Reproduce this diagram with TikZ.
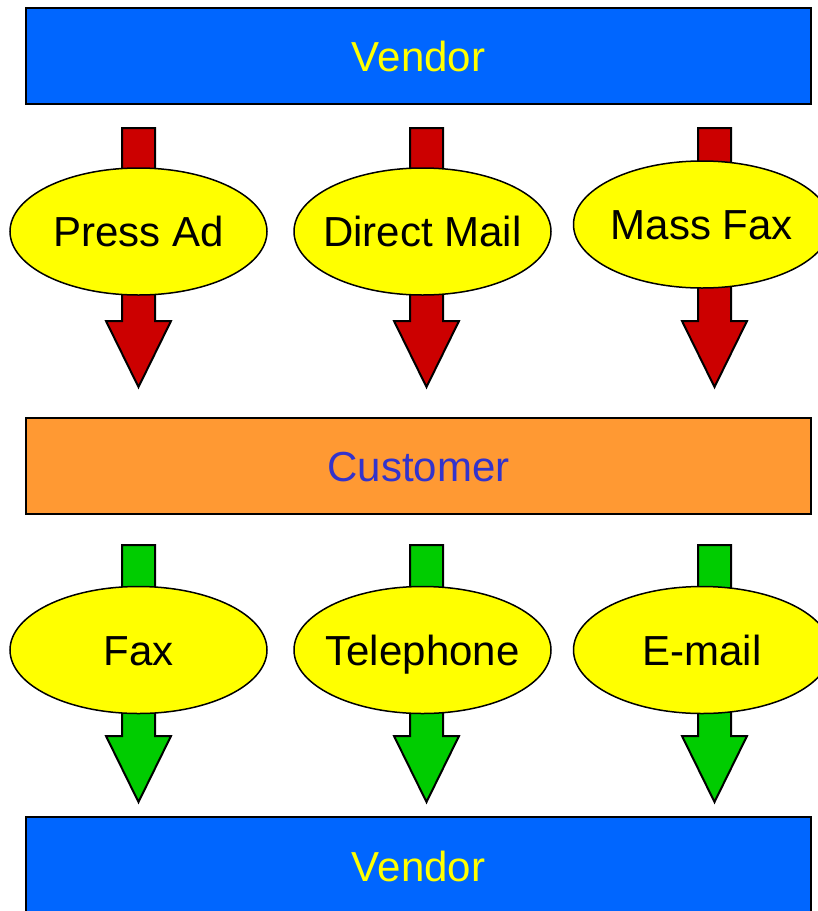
\documentclass[tikz,border=0pt]{standalone}
\usepackage{fontspec}
\setmainfont{Liberation Sans}
\usetikzlibrary{shapes.geometric,calc}

\definecolor{vendorblue}{HTML}{0066FF}
\definecolor{custorange}{HTML}{FF9933}
\definecolor{custtext}{HTML}{3333CC}
\definecolor{arrowred}{HTML}{CC0000}
\definecolor{arrowgreen}{HTML}{00CC00}
\definecolor{bubble}{HTML}{FFFF00}

% block arrow from #1 (top of shaft) to #2 (tip), filled with #3
\newcommand\fatdownarrow[3]{%
  \draw[line width=2pt, line join=miter, fill=#3]
    ($(#1)+(-16.5,0)$) -- ($(#1)+(16.5,0)$) -- ($(#2)+(16.5,-66)$)
    -- ($(#2)+(32.5,-66)$) -- (#2) -- ($(#2)+(-32.5,-66)$)
    -- ($(#2)+(-16.5,-66)$) -- cycle;}

\begin{document}
\begin{tikzpicture}[x=1pt,y=-1pt,
  every node/.style={font=\fontsize{42}{50}\selectfont, text height=30pt, text depth=0pt, inner sep=0pt},
  band/.style={draw, line width=2pt, rectangle, minimum width=785, minimum height=96},
  bubblenode/.style={draw, line width=1.5pt, ellipse, fill=bubble, inner xsep=-15pt,
    minimum width=257, minimum height=127}]
\useasboundingbox (0,0) rectangle (818,911);
\clip (0,0) rectangle (818,911);

% bands
\node[band, fill=vendorblue, text=bubble] (vtop) at (418.5,56) {Vendor};
\node[band, fill=custorange, text=custtext] (cust) at (418.5,466) {Customer};
\node[band, fill=vendorblue, minimum height=110] (vbot) at (418.5,872) {};
\node[text=bubble] (vbotlabel) at (418.5,866) {Vendor};

% arrow end points
\coordinate (r1s) at (138.5,128); \coordinate (r1e) at (138.5,387);
\coordinate (r2s) at (426.5,128); \coordinate (r2e) at (426.5,387);
\coordinate (r3s) at (714.5,128); \coordinate (r3e) at (714.5,387);
\coordinate (g1s) at (138.5,545); \coordinate (g1e) at (138.5,802);
\coordinate (g2s) at (426.5,545); \coordinate (g2e) at (426.5,802);
\coordinate (g3s) at (714.5,545); \coordinate (g3e) at (714.5,802);

\fatdownarrow{r1s}{r1e}{arrowred}
\fatdownarrow{r2s}{r2e}{arrowred}
\fatdownarrow{r3s}{r3e}{arrowred}
\fatdownarrow{g1s}{g1e}{arrowgreen}
\fatdownarrow{g2s}{g2e}{arrowgreen}
\fatdownarrow{g3s}{g3e}{arrowgreen}

% channels vendor -> customer
\node[bubblenode] (press) at (138.5,231.5) {Press Ad};
\node[bubblenode] (mail) at (422.5,231.5) {Direct Mail};
\node[bubblenode] (mfax) at (702,224.5) {Mass Fax};

% channels customer -> vendor
\node[bubblenode] (fax) at (138.5,650) {Fax};
\node[bubblenode] (phone) at (422.5,650) {Telephone};
\node[bubblenode] (email) at (702,650) {E-mail};
\end{tikzpicture}
\end{document}
